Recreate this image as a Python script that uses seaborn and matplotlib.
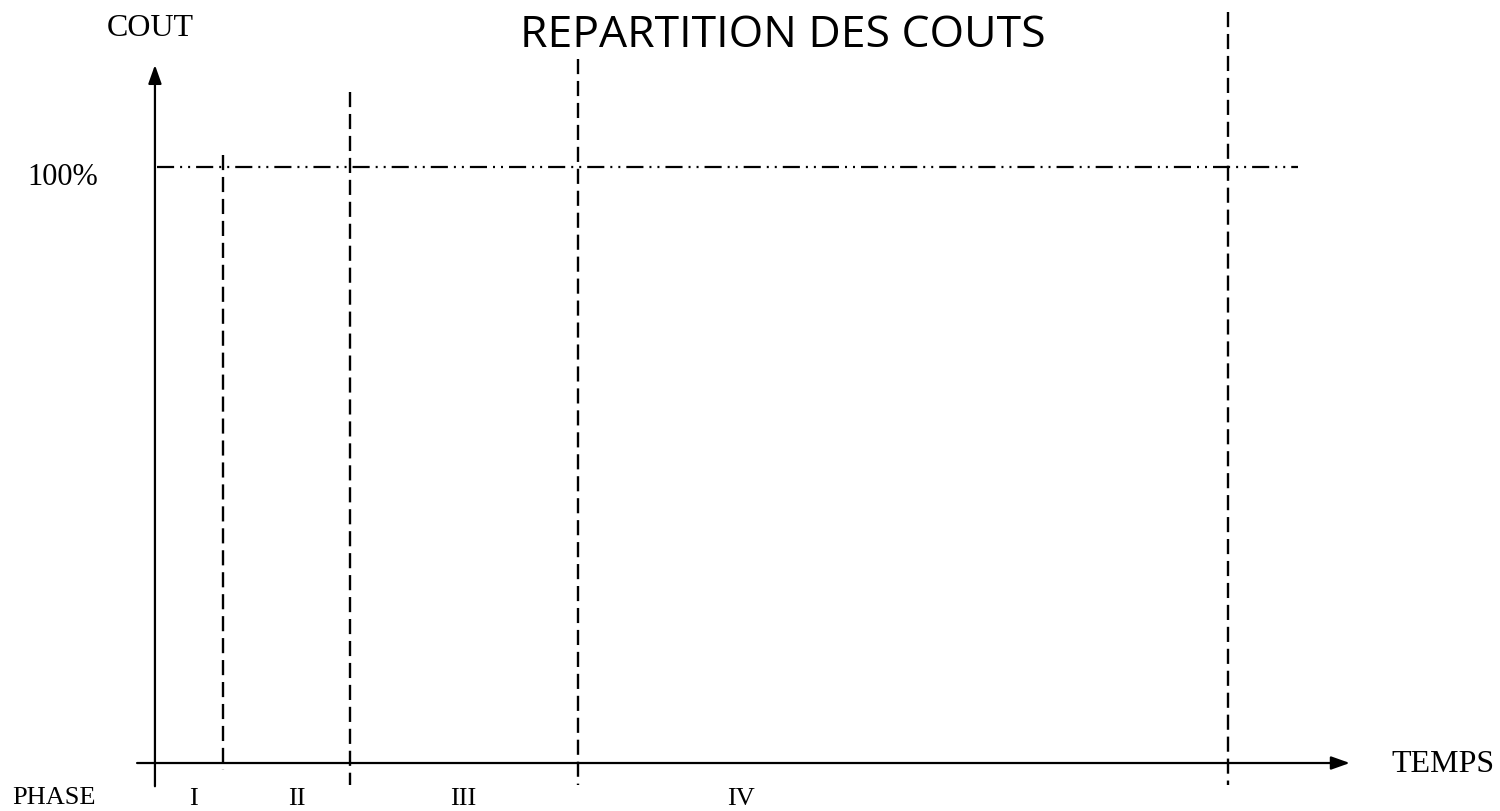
import pandas as pd
import matplotlib
matplotlib.use("Agg")
import matplotlib.pyplot as plt
import seaborn as sns

# -------- DATA --------
# time axis (arbitrary units), cost axis in % of total cost
phase_ends = [11.5, 32.7, 71.0, 180.0]
line_tops = [102.0, 112.6, 118.1, 126.0]
line_bottoms = [-1.2, -3.7, -3.7, -3.7]
phase_names = ["I", "II", "III", "IV"]
phase_label_x = [6.5, 23.8, 51.8, 98.3]
full_cost = 100
full_cost_end = 191.8

sns.set_theme(style="white")
plt.rcParams["font.family"] = ["Liberation Serif", "DejaVu Serif"]
plt.rcParams["text.color"] = "black"

fig = plt.figure(figsize=(15, 8.11), dpi=100)
ax = fig.add_axes([0, 0, 1, 1])
ax.set_xlim(-26.0, 225.7)
ax.set_ylim(-8.05, 128.0)
ax.axis("off")

# -------- PHASE BOUNDARIES (dashed) --------
rows = []
for i, (t, lo, hi) in enumerate(zip(phase_ends, line_bottoms, line_tops)):
    rows.append({"t": t, "c": hi, "line": i})
    rows.append({"t": t, "c": lo, "line": i})
bounds = pd.DataFrame(rows)
sns.lineplot(data=bounds, x="t", y="c", units="line", estimator=None, sort=False,
             color="black", lw=1.7, linestyle=(0, (6.4, 2.9)), ax=ax)

# -------- 100% LINE (dash-dot-dot) --------
hundred = pd.DataFrame({"t": [0.3, full_cost_end], "c": [full_cost, full_cost]})
sns.lineplot(data=hundred, x="t", y="c", estimator=None, sort=False, color="black",
             lw=1.6, linestyle=(0, (7.7, 2.7, 0.9, 2.7, 0.9, 2.7)), ax=ax)

# -------- AXES WITH ARROWS --------
arrow = dict(arrowstyle="-|>,head_length=0.45,head_width=0.16", lw=1.6,
             color="black", mutation_scale=25, shrinkA=0, shrinkB=0)
ax.annotate("", xy=(0, 117.1), xytext=(0, -3.9), arrowprops=arrow)
ax.annotate("", xy=(200.5, 0), xytext=(-3.0, 0), arrowprops=arrow)

# -------- TEXT --------
ax.text(105.4, 122.0, "REPARTITION DES COUTS", fontsize=32,
        family=["Open Sans", "DejaVu Sans"], ha="center", va="center")
ax.text(-0.8, 123.3, "COUT", fontsize=23, ha="center", va="center")
ax.text(-15.4, 98.2, "100%", fontsize=22, ha="center", va="center")
ax.text(216.1, -0.2, "TEMPS", fontsize=23, ha="center", va="center")
ax.text(-16.9, -5.9, "PHASE", fontsize=19, ha="center", va="center")
for name, x in zip(phase_names, phase_label_x):
    ax.text(x, -6.0, name, fontsize=19, ha="center", va="center")

plt.savefig("out.png", dpi=100, facecolor="white")
